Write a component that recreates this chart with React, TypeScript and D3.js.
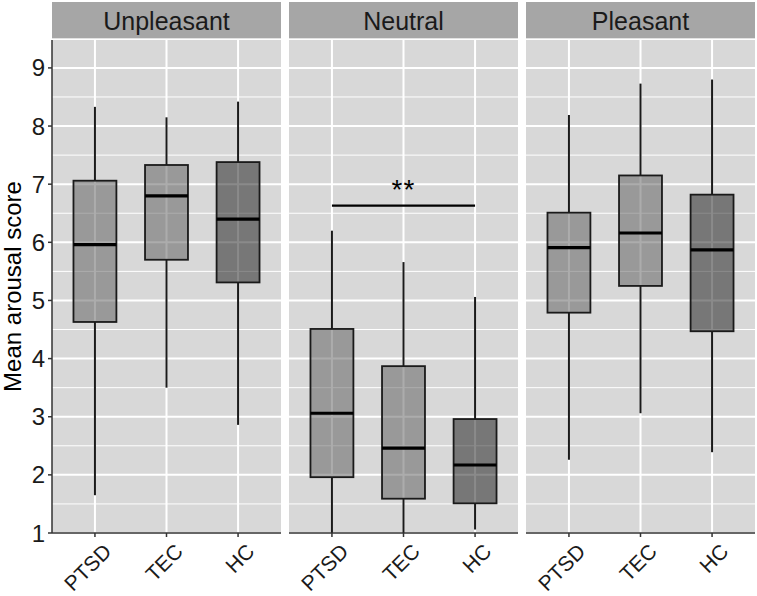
import * as d3 from 'd3';

const panels = ['Unpleasant', 'Neutral', 'Pleasant'];
const groups = ['PTSD', 'TEC', 'HC'];

// [lowerWhisker, q1, median, q3, upperWhisker] per group, per panel
const unpleasant = [
  [1.65, 4.63, 5.96, 7.06, 8.33],
  [3.5, 5.7, 6.8, 7.33, 8.15],
  [2.86, 5.31, 6.4, 7.38, 8.42],
];
const neutral = [
  [0.8, 1.96, 3.06, 4.51, 6.2],
  [0.8, 1.59, 2.46, 3.87, 5.66],
  [1.06, 1.51, 2.17, 2.96, 5.06],
];
const pleasant = [
  [2.26, 4.79, 5.91, 6.51, 8.19],
  [3.06, 5.25, 6.16, 7.15, 8.73],
  [2.39, 4.47, 5.87, 6.82, 8.8],
];
const panelData = [unpleasant, neutral, pleasant];

const yTicks = [1, 2, 3, 4, 5, 6, 7, 8, 9];
const yMinor = [1.5, 2.5, 3.5, 4.5, 5.5, 6.5, 7.5, 8.5, 9.5];
const signif = { panel: 1, from: 'PTSD', to: 'HC', y: 6.63, label: '**' };

const W = 757;
const H = 596;
const panelLeft = [52, 289, 526];
const panelW = 229;
const stripTop = 2;
const stripH = 37;
const plotTop = 40;
const plotBottom = 533;
const font = 'Liberation Sans, Arial, sans-serif';

export default function App() {
  const y = d3.scaleLinear().domain([1, 9.48]).range([plotBottom, plotTop]);
  const x = d3.scalePoint<string>().domain(groups).range([0, panelW]).padding(0.6);
  const boxW = x.step() * 0.6;

  return (
    <svg width={W} height={H} style={{ position: 'absolute', left: 0, top: 0 }}>
      <rect width={W} height={H} fill="#fff" />
      <defs>
        <clipPath id="clip">
          <rect x={0} y={plotTop} width={panelW} height={plotBottom - plotTop} />
        </clipPath>
      </defs>
      {panels.map((name, pi) => {
        const data = panelData[pi];
        return (
          <g key={name} transform={`translate(${panelLeft[pi]},0)`}>
            <rect x={0} y={stripTop} width={panelW} height={stripH} fill="#a6a6a6" />
            <text
              x={panelW / 2}
              y={stripTop + stripH / 2 + 9}
              textAnchor="middle"
              fontFamily={font}
              fontSize={25}
              fill="#1a1a1a"
            >
              {name}
            </text>
            <rect x={0} y={plotTop} width={panelW} height={plotBottom - plotTop} fill="#d8d8d8" />
            {yMinor.map((v) => (
              <line key={'m' + v} x1={0} x2={panelW} y1={y(v)} y2={y(v)} stroke="#fff" strokeWidth={1} />
            ))}
            {yTicks.map((v) => (
              <line key={'g' + v} x1={0} x2={panelW} y1={y(v)} y2={y(v)} stroke="#fff" strokeWidth={2} />
            ))}
            {groups.map((g) => (
              <line key={'v' + g} x1={x(g)} x2={x(g)} y1={plotTop} y2={plotBottom} stroke="#fff" strokeWidth={2} />
            ))}
            <g clipPath="url(#clip)">
              {groups.map((g, gi) => {
                const [lo, q1, med, q3, hi] = data[gi];
                const cx = x(g) as number;
                const fill = g === 'HC' ? '#151515' : '#595959';
                return (
                  <g key={g}>
                    <line x1={cx} x2={cx} y1={y(hi)} y2={y(q3)} stroke="#1a1a1a" strokeWidth={2} />
                    <line x1={cx} x2={cx} y1={y(q1)} y2={y(lo)} stroke="#1a1a1a" strokeWidth={2} />
                    <rect
                      x={cx - boxW / 2}
                      y={y(q3)}
                      width={boxW}
                      height={y(q1) - y(q3)}
                      fill={fill}
                      fillOpacity={0.5}
                      stroke="#1a1a1a"
                      strokeWidth={1.8}
                    />
                    <line
                      x1={cx - boxW / 2}
                      x2={cx + boxW / 2}
                      y1={y(med)}
                      y2={y(med)}
                      stroke="#000"
                      strokeWidth={3.2}
                    />
                  </g>
                );
              })}
            </g>
            {signif.panel === pi && (
              <g>
                <line
                  x1={x(signif.from)}
                  x2={x(signif.to)}
                  y1={y(signif.y)}
                  y2={y(signif.y)}
                  stroke="#000"
                  strokeWidth={2.2}
                />
                <text
                  x={((x(signif.from) as number) + (x(signif.to) as number)) / 2}
                  y={y(signif.y) - 7}
                  textAnchor="middle"
                  fontFamily={font}
                  fontSize={28}
                  letterSpacing={1}
                  fill="#000"
                >
                  {signif.label}
                </text>
              </g>
            )}
            <line x1={0} x2={panelW} y1={plotBottom} y2={plotBottom} stroke="#333" strokeWidth={1.5} />
            {groups.map((g) => (
              <g key={'t' + g}>
                <line x1={x(g)} x2={x(g)} y1={plotBottom} y2={plotBottom + 4} stroke="#333" strokeWidth={1.5} />
                <text
                  transform={`translate(${(x(g) as number) + 7},${plotBottom + 9}) rotate(-45)`}
                  textAnchor="end"
                  dominantBaseline="hanging"
                  fontFamily={font}
                  fontSize={21}
                  fill="#1a1a1a"
                >
                  {g}
                </text>
              </g>
            ))}
          </g>
        );
      })}
      <line x1={panelLeft[0]} x2={panelLeft[0]} y1={plotTop} y2={plotBottom} stroke="#333" strokeWidth={1.5} />
      {yTicks.map((v) => (
        <g key={'yt' + v}>
          <line x1={panelLeft[0] - 4} x2={panelLeft[0]} y1={y(v)} y2={y(v)} stroke="#333" strokeWidth={1.5} />
          <text
            x={panelLeft[0] - 7}
            y={y(v) + 8.5}
            textAnchor="end"
            fontFamily={font}
            fontSize={24}
            fill="#1a1a1a"
          >
            {v}
          </text>
        </g>
      ))}
      <text
        transform={`translate(21,${(plotTop + plotBottom) / 2}) rotate(-90)`}
        textAnchor="middle"
        fontFamily={font}
        fontSize={24}
        fill="#000"
      >
        Mean arousal score
      </text>
    </svg>
  );
}
